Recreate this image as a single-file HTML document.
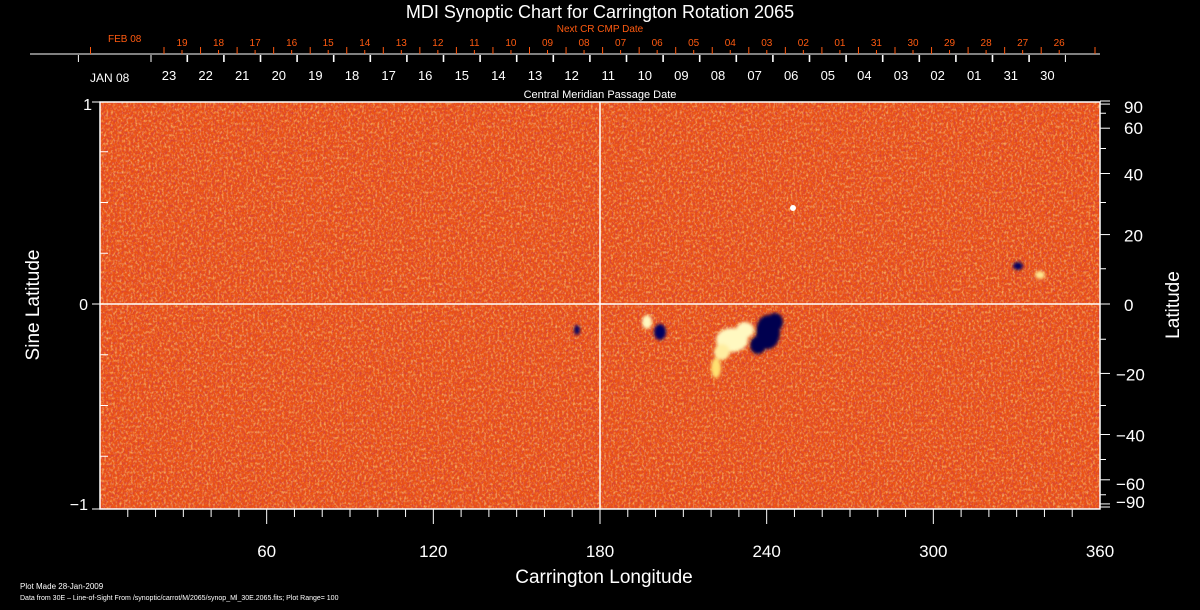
<!DOCTYPE html>
<html><head><meta charset="utf-8"><style>
html,body{margin:0;padding:0;background:#000;}
svg{display:block;font-family:"Liberation Sans",sans-serif;}
</style></head><body>
<svg id="s" width="1200" height="610" xmlns="http://www.w3.org/2000/svg">
<defs>
<filter id="n" x="0" y="0" width="100%" height="100%">
<feTurbulence type="fractalNoise" baseFrequency="0.45 0.35" numOctaves="2" seed="4"/>
<feColorMatrix type="matrix" values="0 0 0 0 1  0 0 0 0 0.85  0 0 0 0 0.3  2.4 0 0 0 -1.1"/>
</filter>
<filter id="d" x="0" y="0" width="100%" height="100%">
<feTurbulence type="fractalNoise" baseFrequency="0.5 0.4" numOctaves="2" seed="9"/>
<feColorMatrix type="matrix" values="0 0 0 0 0.65  0 0 0 0 0.05  0 0 0 0 0.05  2.6 0 0 0 -1.05"/>
</filter>
<filter id="b"><feGaussianBlur stdDeviation="1.5"/></filter>
</defs>
<rect x="100" y="102" width="1000" height="407" fill="#ec5414"/>
<rect x="100" y="102" width="1000" height="407" filter="url(#d)" opacity="0.9"/>
<rect x="100" y="102" width="1000" height="407" filter="url(#n)" opacity="0.6"/>
<g filter="url(#b)">
<ellipse cx="732" cy="340" rx="16" ry="12" fill="#fff8c0"/>
<ellipse cx="745" cy="330" rx="9" ry="8" fill="#fff8c0"/>
<ellipse cx="722" cy="352" rx="8" ry="8" fill="#ffeea0"/>
<ellipse cx="716" cy="368" rx="5" ry="10" fill="#ffe070"/>
<ellipse cx="768" cy="332" rx="12" ry="17" fill="#000050"/>
<ellipse cx="758" cy="345" rx="8" ry="9" fill="#000050"/>
<ellipse cx="775" cy="322" rx="8" ry="9" fill="#000050"/>
<ellipse cx="660" cy="332" rx="6" ry="8" fill="#000060"/>
<ellipse cx="647" cy="322" rx="5" ry="7" fill="#fff8c0"/>
<ellipse cx="577" cy="330" rx="3" ry="5" fill="#000060"/>
<ellipse cx="1018" cy="266" rx="5" ry="4" fill="#000060"/>
<ellipse cx="1040" cy="275" rx="5" ry="4" fill="#ffe890"/>
</g>
<circle cx="793" cy="208" r="3" fill="#fff"/>
<line x1="100" y1="304" x2="1100" y2="304" stroke="#fff" stroke-width="1.5"/>
<line x1="600" y1="102" x2="600" y2="509" stroke="#fff" stroke-width="1.5"/>
<rect x="100" y="102" width="1000" height="407" fill="none" stroke="#fff" stroke-width="1.5"/>
<line x1="30" y1="54" x2="1100" y2="54" stroke="#fff"/>
<g id="t" stroke="#fff" fill="#fff"></g>
<text x="600" y="18" fill="#fff" font-size="18" text-anchor="middle">MDI Synoptic Chart for Carrington Rotation 2065</text>
<text x="600" y="32" fill="#ff5a10" font-size="10" text-anchor="middle">Next CR CMP Date</text>
<text x="108" y="42" fill="#ff5a10" font-size="10">FEB 08</text>
<text x="90" y="82" fill="#fff" font-size="12">JAN 08</text>
<text x="600" y="98" fill="#fff" font-size="11" text-anchor="middle">Central Meridian Passage Date</text>
<text x="92" y="110" fill="#fff" font-size="16" text-anchor="end">1</text>
<text x="88" y="310" fill="#fff" font-size="16" text-anchor="end">0</text>
<text x="88" y="510" fill="#fff" font-size="16" text-anchor="end">−1</text>
<text transform="translate(39,305) rotate(-90)" fill="#fff" font-size="19" text-anchor="middle">Sine Latitude</text>
<text transform="translate(1179,305) rotate(-90)" fill="#fff" font-size="19" text-anchor="middle">Latitude</text>
<text x="604" y="583" fill="#fff" font-size="19" text-anchor="middle">Carrington Longitude</text>
<text x="20" y="589" fill="#fff" font-size="8">Plot Made 28-Jan-2009</text>
<text x="20" y="600" fill="#fff" font-size="7">Data from 30E – Line-of-Sight From /synoptic/carrot/M/2065/synop_Ml_30E.2065.fits; Plot Range=  100</text>
</svg>
<script>
var g=document.getElementById('t'),h='';
function L(x1,y1,x2,y2,c){h+='<line x1="'+x1+'" y1="'+y1+'" x2="'+x2+'" y2="'+y2+'" stroke="'+(c||'#fff')+'"/>';}
function T(x,y,s,sz,c,a){h+='<text x="'+x+'" y="'+y+'" font-size="'+sz+'" fill="'+(c||'#fff')+'" stroke="none" text-anchor="'+(a||'middle')+'">'+s+'</text>';}
var o=['19','18','17','16','15','14','13','12','11','10','09','08','07','06','05','04','03','02','01','31','30','29','28','27','26'];
o.forEach(function(s,i){var x=182+i*36.55;T(x,46,s,10,'#ff5a10');L(x-18,54,x-18,47,'#ff5a10');L(x,54,x,50,'#ff5a10');});
L(127-36.5,54,127-36.5,47,'#ff5a10');L(1095,54,1095,47,'#ff5a10');
var w=['23','22','21','20','19','18','17','16','15','14','13','12','11','10','09','08','07','06','05','04','03','02','01','31','30'];
w.forEach(function(s,i){var x=169+i*36.6;T(x,80,s,13);L(x-18,55,x-18,62);L(x+18,55,x+18,62);});
L(115-36.6,55,115-36.6,62);
for(var d=10;d<360;d+=10){var x=100+d*1000/360,m=d%60==0;L(x,509,x,m?524:517);}
[60,120,180,240,300,360].forEach(function(d){T(100+d*1000/360,557,d,17);});
for(var v=-0.75;v<=0.76;v+=0.25){if(Math.abs(v)<0.01)continue;var y=304-v*203;L(100,y,108,y);}
L(92,102,100,102);L(92,509,100,509);L(92,304,100,304);
for(var a=-90;a<=90;a+=10){var y=304-Math.sin(a*Math.PI/180)*203;var m=(a%20==0)||Math.abs(a)==90;L(1100,y,m?1110:1106,y);}
[[90,'90'],[60,'60'],[40,'40'],[20,'20'],[0,'0'],[-20,'−20'],[-40,'−40'],[-60,'−60'],[-90,'−90']].forEach(function(p){var y=304-Math.sin(p[0]*Math.PI/180)*203+7;if(p[0]==90)y=113;if(p[0]==60)y=134;if(p[0]==-60)y=490;if(p[0]==-90)y=508;T(p[0]<0?1116:1124,y,p[1],17,'#fff','start');});
g.innerHTML=h;
</script>
</body></html>
